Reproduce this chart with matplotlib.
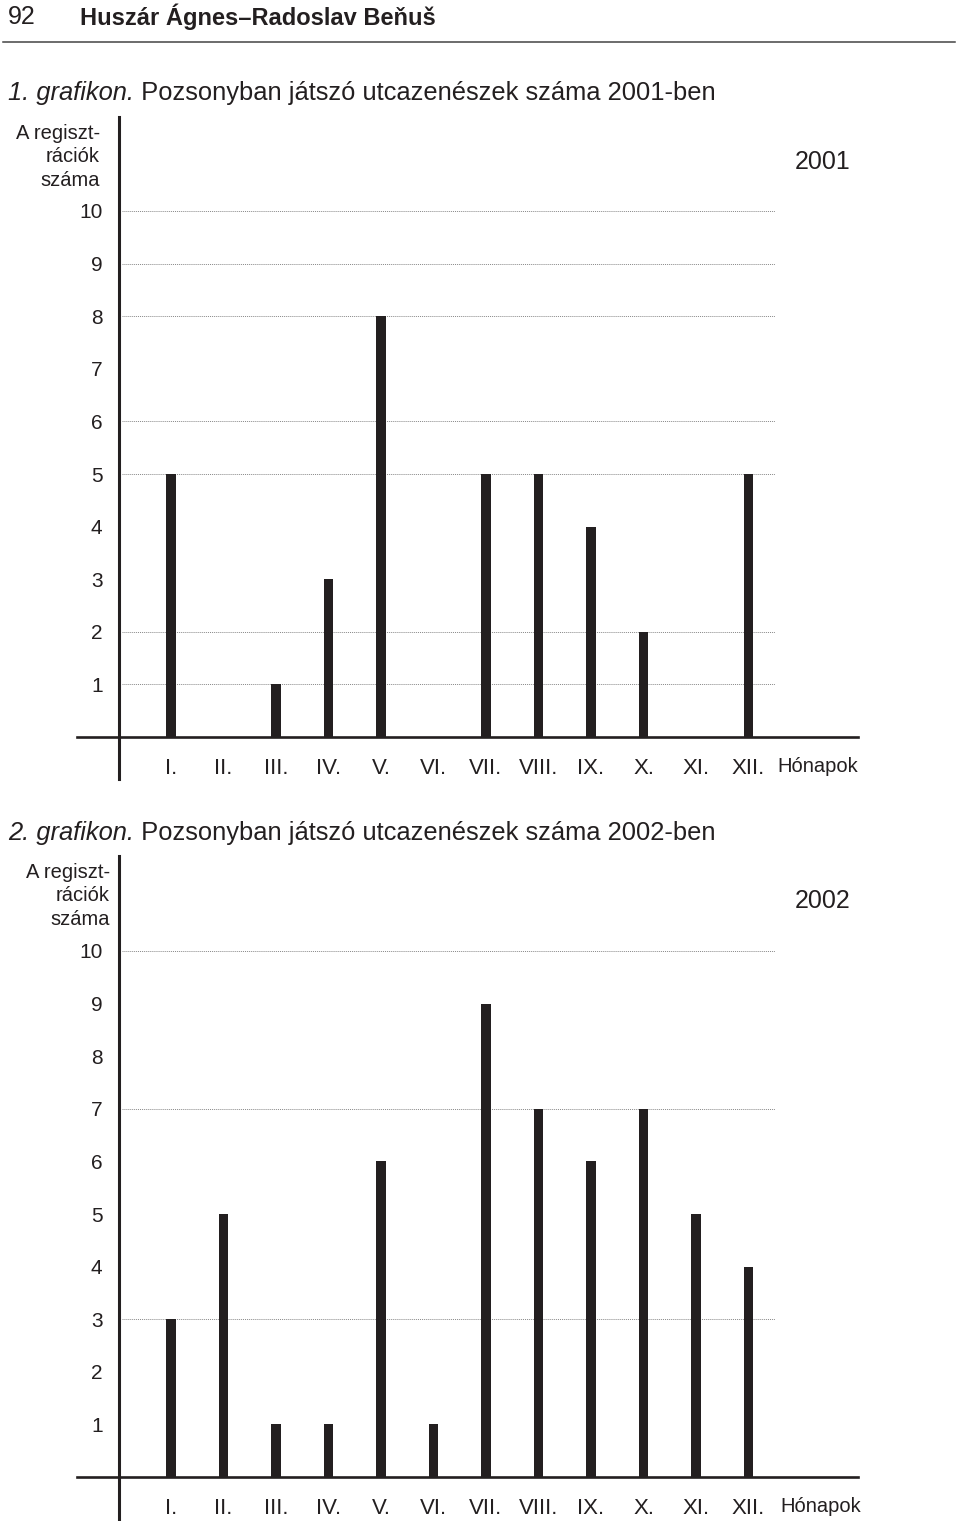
import matplotlib
matplotlib.use("Agg")
import matplotlib.pyplot as plt

months = ["I.", "II.", "III.", "IV.", "V.", "VI.", "VII.", "VIII.", "IX.", "X.", "XI.", "XII."]
counts2001 = [5, 0, 1, 3, 8, 0, 5, 5, 4, 2, 0, 5]
counts2002 = [3, 5, 1, 1, 6, 1, 9, 7, 6, 7, 5, 4]
grid2001 = [1, 2, 5, 6, 8, 9, 10]
grid2002 = [3, 7, 10]
yticks = list(range(1, 11))

W, H = 960, 1521
plt.rcParams['font.family'] = ['Liberation Sans', 'DejaVu Sans']
ink = "#231f20"

fig = plt.figure(figsize=(W / 100, H / 100), dpi=100)

def px(x, y):
    return x / W, 1 - y / H

# page header
fig.text(*px(8, 17), "92", fontsize=18, color=ink, va="center", ha="left")
fig.text(*px(80, 17), "Huszár Ágnes–Radoslav Beňuš", fontsize=17, fontweight="bold",
         color=ink, va="center", ha="left")
fig.add_artist(plt.Line2D([3 / W, 955 / W], [1 - 42 / H, 1 - 42 / H], color="#444444", lw=1.1))

renderer = fig.canvas.get_renderer()

def caption(y, num, rest):
    t = fig.text(*px(8, y), num, fontsize=18.4, fontstyle="italic", color=ink, va="center", ha="left")
    bb = t.get_window_extent(renderer)
    fig.text(bb.x1 / W, 1 - y / H, " " + rest, fontsize=18.4, color=ink, va="center", ha="left")

def chart(top, axis_y, bottom, counts, grid, year, label_x, honap_x):
    unit = 52.6
    x0 = 118.5
    xstep = 52.5
    left_px, right_px = 77, 858
    ax = fig.add_axes([left_px / W, 1 - bottom / H, (right_px - left_px) / W, (bottom - top) / H])
    ax.set_xlim((left_px - x0) / xstep, (right_px - x0) / xstep)
    ax.set_ylim(-(bottom - axis_y) / unit, (axis_y - top) / unit)
    ax.patch.set_alpha(0)
    for s in ["top", "right"]:
        ax.spines[s].set_visible(False)
    ax.spines["left"].set_position(("data", 0))
    ax.spines["bottom"].set_position(("data", 0))
    ax.spines["left"].set_linewidth(2.2)
    ax.spines["bottom"].set_linewidth(1.9)
    ax.spines["left"].set_color(ink)
    ax.spines["bottom"].set_color(ink)

    ax.hlines(grid, 0.06, 12.5, colors="#888888", linestyles=(0, (1, 1)), lw=0.7, zorder=1)
    pos = list(range(1, 13))
    ax.bar(pos, counts, width=0.19, color=ink, zorder=2)

    ax.set_yticks(yticks)
    ax.set_yticklabels([str(v) for v in yticks], fontsize=15, color=ink)
    ax.set_xticks(pos)
    ax.set_xticklabels(months, fontsize=16, color=ink)
    ax.tick_params(axis="y", length=0, pad=11.5)
    ax.tick_params(axis="x", length=0, pad=15)

    ax.text((honap_x - x0) / xstep, -(766 - 737) / unit, "Hónapok", fontsize=14.5,
            color=ink, ha="center", va="center")
    ax.text((823 - x0) / xstep, (axis_y - (top + 45)) / unit, year, fontsize=18, color=ink,
            ha="center", va="center")
    ax.text((label_x - x0) / xstep, (axis_y - (top + 7)) / unit, "A regiszt-\nrációk\nszáma",
            fontsize=14.5, color=ink, ha="right", va="top", linespacing=1.3)
    return ax

caption(93, "1. grafikon.", "Pozsonyban játszó utcazenészek száma 2001-ben")
chart(117, 737, 779, counts2001, grid2001, "2001", 100, 818)

caption(833, "2. grafikon.", "Pozsonyban játszó utcazenészek száma 2002-ben")
chart(856, 1477, 1519, counts2002, grid2002, "2002", 110, 821)

fig.savefig("out.png", dpi=100)
